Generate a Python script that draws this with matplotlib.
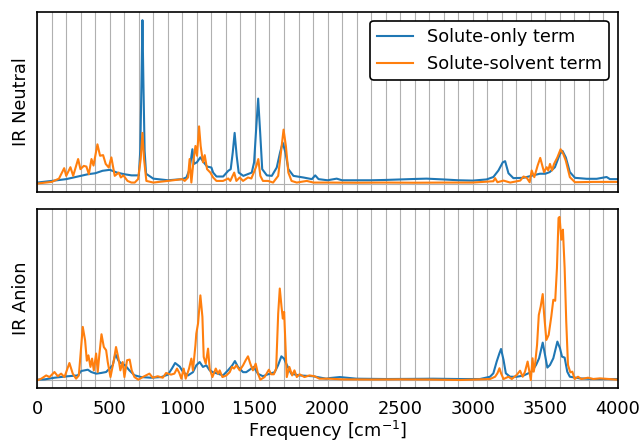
import matplotlib.pyplot as plt
from matplotlib.ticker import MultipleLocator

# Neutral molecule spectra (normalised to strongest band)
neutral_solute_freq = [0, 100, 200, 300, 350, 400, 450, 500, 550, 600, 650, 700, 710, 718, 725, 732, 740, 750, 800, 900,
                       1000, 1028, 1050, 1069, 1080, 1100, 1124, 1147, 1170, 1200, 1212, 1235, 1281, 1316, 1333, 1347,
                       1360, 1374, 1388, 1420, 1478, 1494, 1508, 1522, 1536, 1550, 1582, 1616, 1650, 1673, 1691, 1710,
                       1730, 1765, 1834, 1892, 1915, 1938, 2000, 2063, 2100, 2200, 2300, 2400, 2500, 2600, 2681, 2800,
                       2900, 3000, 3095, 3142, 3177, 3207, 3223, 3246, 3280, 3350, 3416, 3462, 3500, 3530, 3566, 3600,
                       3618, 3641, 3669, 3704, 3785, 3854, 3922, 3945, 4000]
neutral_solute_ir = [0.006, 0.016, 0.027, 0.047, 0.057, 0.063, 0.078, 0.084, 0.067, 0.057, 0.05, 0.05, 0.2, 0.6, 1.0, 0.6, 0.2, 0.06, 0.03, 0.02,
                     0.027, 0.037, 0.088, 0.21, 0.12, 0.13, 0.16, 0.13, 0.104, 0.098, 0.067, 0.043, 0.043, 0.078, 0.088, 0.19,
                     0.31, 0.17, 0.067, 0.047, 0.067, 0.13, 0.33, 0.52, 0.31, 0.088, 0.05, 0.047, 0.098, 0.19, 0.25, 0.19,
                     0.088, 0.047, 0.037, 0.027, 0.05, 0.027, 0.02, 0.03, 0.02, 0.02, 0.02, 0.022, 0.025, 0.028, 0.03, 0.025,
                     0.02, 0.018, 0.025, 0.04, 0.08, 0.13, 0.137, 0.063, 0.033, 0.035, 0.05, 0.06, 0.06, 0.07, 0.10, 0.18,
                     0.20, 0.16, 0.07, 0.035, 0.029, 0.029, 0.04, 0.027, 0.027]

neutral_solvent_freq = [0, 100, 150, 186, 200, 229, 248, 282, 298, 321, 339, 356, 374, 388, 415, 433, 454, 472, 493, 511,
                        534, 562, 576, 594, 622, 649, 672, 695, 713, 725, 736, 752, 800, 900, 1000, 1016, 1039, 1050,
                        1062, 1078, 1090, 1101, 1115, 1126, 1142, 1154, 1170, 1193, 1212, 1235, 1280, 1316, 1330, 1357,
                        1372, 1395, 1418, 1452, 1475, 1492, 1510, 1523, 1537, 1555, 1590, 1625, 1660, 1679, 1697, 1713,
                        1730, 1752, 1788, 1857, 1903, 2000, 2200, 2400, 2600, 2800, 3000, 3142, 3154, 3170, 3212, 3258,
                        3327, 3350, 3372, 3392, 3406, 3424, 3447, 3465, 3476, 3491, 3509, 3520, 3532, 3546, 3560, 3583,
                        3605, 3624, 3641, 3669, 3704, 3830, 4000]
neutral_solvent_ir = [0.0, 0.01, 0.03, 0.094, 0.047, 0.10, 0.047, 0.15, 0.088, 0.108, 0.104, 0.057, 0.15, 0.11, 0.24, 0.17, 0.174, 0.12, 0.098, 0.16,
                      0.047, 0.067, 0.037, 0.05, 0.016, 0.006, 0.006, 0.027, 0.15, 0.31, 0.15, 0.016, 0.006, 0.016, 0.027, 0.016, 0.037, 0.15,
                      0.006, 0.15, 0.23, 0.17, 0.35, 0.23, 0.13, 0.174, 0.088, 0.067, 0.037, 0.016, 0.016, 0.031, 0.016, 0.067,
                      0.016, 0.037, 0.016, 0.037, 0.031, 0.067, 0.108, 0.15, 0.047, 0.016, 0.016, 0.006, 0.047, 0.19, 0.33, 0.23,
                      0.067, 0.016, 0.006, 0.016, 0.006, 0.006, 0.005, 0.006, 0.005, 0.006, 0.006, 0.014, 0.033, 0.008, 0.018, 0.006,
                      0.018, 0.043, 0.035, 0.008, 0.08, 0.039, 0.11, 0.157, 0.12, 0.07, 0.10, 0.08, 0.12, 0.08, 0.12, 0.16,
                      0.21, 0.18, 0.14, 0.039, 0.008, 0.01, 0.01]

# Anion spectra
anion_solute_freq = [0, 53, 119, 211, 280, 303, 326, 349, 372, 406, 440, 475, 498, 520, 539, 560, 583, 606, 635, 670,
                     716, 784, 855, 901, 928, 950, 982, 1005, 1039, 1073, 1096, 1119, 1142, 1165, 1188, 1211, 1246, 1280,
                     1314, 1344, 1362, 1383, 1418, 1440, 1475, 1491, 1521, 1555, 1590, 1636, 1659, 1682, 1700, 1721,
                     1750, 1808, 1900, 1991, 2016, 2085, 2154, 2200, 2400, 2600, 2727, 2900, 3050, 3119, 3142, 3165,
                     3184, 3195, 3212, 3228, 3257, 3303, 3349, 3383, 3406, 3436, 3457, 3482, 3498, 3514, 3532, 3555,
                     3583, 3601, 3615, 3633, 3651, 3669, 3738, 3830, 4000]
anion_solute_ir = [0.004, 0.006, 0.016, 0.025, 0.03, 0.057, 0.061, 0.065, 0.051, 0.041, 0.045, 0.051, 0.072, 0.092, 0.16, 0.12, 0.10, 0.092, 0.061, 0.031,
                   0.02, 0.016, 0.02, 0.035, 0.072, 0.106, 0.084, 0.05, 0.03, 0.05, 0.092, 0.112, 0.082, 0.092, 0.061, 0.05, 0.04, 0.03,
                   0.061, 0.092, 0.118, 0.082, 0.05, 0.05, 0.072, 0.082, 0.04, 0.025, 0.037, 0.05, 0.092, 0.147, 0.133, 0.092,
                   0.04, 0.03, 0.025, 0.01, 0.014, 0.02, 0.014, 0.01, 0.008, 0.009, 0.01, 0.008, 0.008, 0.022, 0.043, 0.115,
                   0.166, 0.192, 0.125, 0.043, 0.022, 0.022, 0.029, 0.043, 0.053, 0.094, 0.135, 0.231, 0.155, 0.078, 0.094, 0.135,
                   0.237, 0.196, 0.145, 0.139, 0.053, 0.022, 0.012, 0.008, 0.008]

anion_solvent_freq = [0, 28, 62, 85, 119, 142, 165, 188, 222, 245, 268, 287, 314, 330, 342, 353, 367, 378, 390, 406,
                      417, 429, 443, 459, 475, 486, 505, 528, 543, 560, 573, 589, 601, 619, 637, 651, 670, 697, 727,
                      773, 796, 830, 865, 888, 922, 945, 963, 979, 993, 1009, 1023, 1046, 1062, 1073, 1090, 1096, 1108,
                      1124, 1138, 1147, 1161, 1177, 1188, 1207, 1230, 1246, 1257, 1276, 1303, 1326, 1342, 1356, 1372,
                      1395, 1418, 1436, 1452, 1468, 1486, 1505, 1521, 1537, 1566, 1596, 1612, 1630, 1646, 1660, 1671,
                      1683, 1692, 1701, 1710, 1719, 1737, 1756, 1772, 1788, 1807, 1841, 1876, 1910, 1944, 2014, 2100,
                      2300, 2500, 2700, 2912, 3119, 3154, 3170, 3184, 3195, 3212, 3246, 3269, 3303, 3326, 3344, 3360,
                      3378, 3390, 3400, 3412, 3420, 3430, 3443, 3455, 3468, 3482, 3491, 3507, 3523, 3541, 3555, 3568,
                      3580, 3591, 3598, 3610, 3621, 3633, 3644, 3656, 3672, 3686, 3702, 3725, 3748, 3794, 3830, 3876, 4000]
anion_solvent_ir = [0.0, 0.01, 0.03, 0.02, 0.051, 0.025, 0.041, 0.02, 0.106, 0.041, 0.01, 0.03, 0.327, 0.245, 0.12, 0.153, 0.082, 0.133, 0.061, 0.164,
                    0.051, 0.164, 0.282, 0.204, 0.184, 0.112, 0.02, 0.123, 0.204, 0.133, 0.061, 0.112, 0.02, 0.123, 0.127, 0.061, 0.02, 0.004, 0.02,
                    0.041, 0.016, 0.025, 0.016, 0.045, 0.035, 0.041, 0.072, 0.045, 0.01, 0.072, 0.01, 0.072, 0.133, 0.061, 0.215, 0.286, 0.348,
                    0.52, 0.389, 0.143, 0.102, 0.194, 0.072, 0.02, 0.072, 0.04, 0.061, 0.02, 0.03, 0.05, 0.082, 0.072, 0.092,
                    0.061, 0.092, 0.123, 0.147, 0.102, 0.061, 0.102, 0.04, 0.004, 0.02, 0.065, 0.037, 0.037, 0.072, 0.409, 0.562,
                    0.45, 0.378, 0.419, 0.225, 0.02, 0.082, 0.03, 0.061, 0.02, 0.037, 0.02, 0.03, 0.025, 0.01, 0.01, 0.006,
                    0.005, 0.006, 0.005, 0.002, 0.008, 0.022, 0.043, 0.074, 0.043, 0.008, 0.022, 0.008, 0.033, 0.059, 0.022, 0.053,
                    0.115, 0.053, 0.002, 0.135, 0.053, 0.104, 0.217, 0.40, 0.452, 0.528, 0.411, 0.247, 0.278, 0.39, 0.493, 0.487,
                    0.687, 0.994, 1.0, 0.861, 0.922, 0.687, 0.36, 0.094, 0.049, 0.053, 0.008, 0.022, 0.008, 0.016, 0.008, 0.012, 0.004]

plt.rcParams['font.size'] = 12.8

fig, (ax1, ax2) = plt.subplots(2, 1, figsize=(6.41, 4.44), dpi=100, sharex=True)
fig.subplots_adjust(left=0.058, right=0.964, top=0.973, bottom=0.125, hspace=0.095)

ax1.plot(neutral_solute_freq, neutral_solute_ir, color='tab:blue', lw=1.5, label='Solute-only term')
ax1.plot(neutral_solvent_freq, neutral_solvent_ir, color='tab:orange', lw=1.5, label='Solute-solvent term')
ax2.plot(anion_solute_freq, anion_solute_ir, color='tab:blue', lw=1.5)
ax2.plot(anion_solvent_freq, anion_solvent_ir, color='tab:orange', lw=1.5)

for ax, name in [(ax1, 'IR Neutral'), (ax2, 'IR Anion')]:
    ax.set_xlim(0, 4000)
    ax.set_yticks([0])
    ax.set_yticklabels([])
    ax.xaxis.set_major_locator(MultipleLocator(500))
    ax.xaxis.set_minor_locator(MultipleLocator(100))
    ax.grid(True, which='both', axis='x', color='#b0b0b0', lw=0.8)
    ax.grid(True, axis='y', color='#b0b0b0', lw=0.8)
    ax.tick_params(which='both', length=0)
    ax.tick_params(axis='x', pad=8)
    ax.tick_params(axis='y', pad=0)
    ax.set_ylabel(name, labelpad=5)
    for s in ax.spines.values():
        s.set_linewidth(1.2)
    ax.set_axisbelow(True)

leg = ax1.legend(loc='upper right', framealpha=1, edgecolor='black', fancybox=True)
leg.get_frame().set_linewidth(1.2)

ax2.set_xlabel('Frequency [cm$^{-1}$]', labelpad=1)

plt.savefig('out.png')
